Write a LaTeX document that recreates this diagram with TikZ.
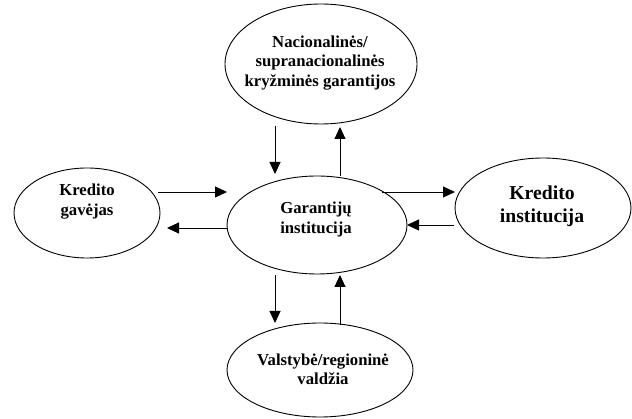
\documentclass[tikz,border=0pt]{standalone}
\usepackage{fontspec}
\setmainfont{Liberation Serif}
\usetikzlibrary{arrows.meta,shapes.geometric}
\begin{document}
\begin{tikzpicture}[x=1pt,y=-1pt,
  ell/.style={draw,ellipse,line width=0.9pt,inner sep=0pt},
  lbl/.style={align=center,inner sep=0pt,font=\bfseries\fontsize{16.7}{19.3}\selectfont},
  big/.style={align=center,inner sep=0pt,font=\bfseries\fontsize{19.7}{23}\selectfont},
  conn/.style={line width=0.9pt,-{Triangle[length=12pt,width=11pt]}}]
\useasboundingbox (0,0) rectangle (632,419);
% ellipses
\node[ell,minimum width=192pt,minimum height=120pt] (top) at (321,64) {};
\node[ell,minimum width=146pt,minimum height=90pt] (left) at (87,213) {};
\node[ell,minimum width=180pt,minimum height=98pt] (mid) at (317,225) {};
\node[ell,minimum width=176pt,minimum height=100pt] (right) at (543,208) {};
\node[ell,minimum width=186pt,minimum height=94pt] (bot) at (320,370) {};
% texts
\node[lbl] (toptxt) at (320,63) {Nacionalinės/\\supranacionalinės\\kryžminės garantijos};
\node[lbl] (lefttxt) at (87,201.5) {Kredito\\gavėjas};
\node[lbl] (midtxt) at (316,219.5) {Garantijų\\institucija};
\node[big] (righttxt) at (542,206.5) {Kredito\\institucija};
\node[lbl] (bottxt) at (323,369.5) {Valstybė/regioninė\\valdžia};
% connector end points
\coordinate (t1) at (275,126);
\coordinate (m1) at (275,174);
\coordinate (m2) at (340,176);
\coordinate (t2) at (340,127);
\coordinate (l1) at (158,192);
\coordinate (m3) at (227,192);
\coordinate (m4) at (227,228);
\coordinate (l2) at (167,228);
\coordinate (m5) at (382,192);
\coordinate (r1) at (455,192);
\coordinate (r2) at (454,225);
\coordinate (m6) at (407,225);
\coordinate (m7) at (275,275);
\coordinate (b1) at (275,323);
\coordinate (b2) at (340,325);
\coordinate (m8) at (340,275);
% connectors
\draw[conn] (t1) -- (m1);
\draw[conn] (m2) -- (t2);
\draw[conn] (l1) -- (m3);
\draw[conn] (m4) -- (l2);
\draw[conn] (m5) -- (r1);
\draw[conn] (r2) -- (m6);
\draw[conn] (m7) -- (b1);
\draw[conn] (b2) -- (m8);
\end{tikzpicture}
\end{document}
